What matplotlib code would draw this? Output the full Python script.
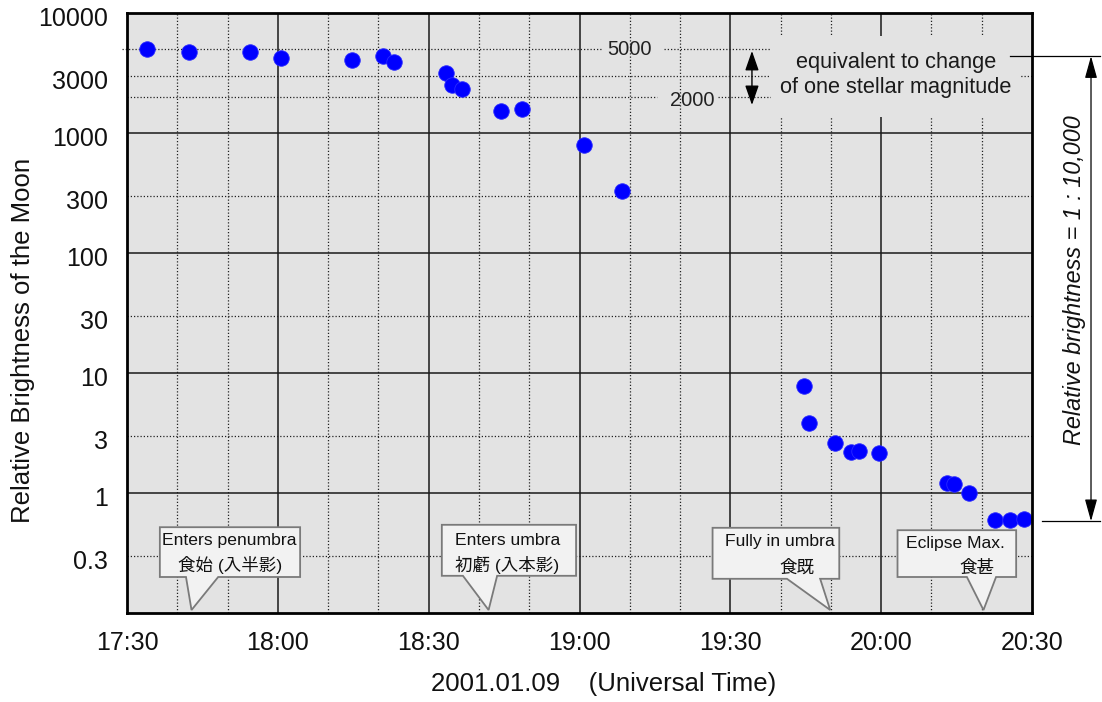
import matplotlib
matplotlib.use("Agg")
import matplotlib.pyplot as plt
import matplotlib.transforms as mtransforms
from matplotlib.patches import Polygon, Rectangle

# Observation times (UT) and measured relative brightness of the Moon
obs_times = [
    "17:34:00", "17:42:24", "17:54:30", "18:00:36", "18:14:42", "18:21:00",
    "18:23:06", "18:33:24", "18:34:36", "18:36:42", "18:44:18", "18:48:36",
    "19:00:48", "19:08:30", "19:44:42", "19:45:42", "19:50:48", "19:54:00",
    "19:55:30", "19:59:36", "20:13:00", "20:14:30", "20:17:30", "20:22:36",
    "20:25:42", "20:28:30",
]
brightness = [
    4980, 4760, 4760, 4190, 4060, 4410,
    3880, 3150, 2510, 2330, 1525, 1585,
    794, 331, 7.8, 3.8, 2.6, 2.21,
    2.22, 2.15, 1.21, 1.19, 1.0, 0.60,
    0.60, 0.61,
]

# Eclipse contacts
event_times = ["17:42:50", "18:41:55", "19:49:52", "20:20:21"]
event_labels_en = ["Enters penumbra", "Enters umbra", "Fully in umbra", "Eclipse Max."]
event_labels_ja = ["食始 (入半影)", "初虧 (入本影)", "食既", "食甚"]

ytick_values = [0.3, 1, 3, 10, 30, 100, 300, 1000, 3000, 10000]
ytick_labels = ["0.3", "1", "3", "10", "30", "100", "300", "1000", "3000", "10000"]
xtick_labels = ["17:30", "18:00", "18:30", "19:00", "19:30", "20:00", "20:30"]
magnitude_levels = [5000, 2000]


def to_minutes(s):
    parts = [float(p) for p in s.split(":")]
    while len(parts) < 3:
        parts.append(0.0)
    return parts[0] * 60 + parts[1] + parts[2] / 60


BG = "#e3e3e3"
LATIN = "Liberation Sans"
MIXED = ["Liberation Sans", "Noto Sans CJK JP"]

fig = plt.figure(figsize=(11.02, 7.02), dpi=100)
ax = fig.add_axes([127 / 1102, 89 / 702, 905 / 1102, 600 / 702])
ax.set_facecolor(BG)

x0, x1 = to_minutes("17:30"), to_minutes("20:30")
ax.set_xlim(x0, x1)
ax.set_yscale("log")
ax.set_ylim(0.1, 10000)

# grid: solid on the half hour / decades, dotted otherwise
dot = (0, (1, 1.6))
m = x0 + 10
while m < x1 - 1:
    if round(m - x0) % 30 == 0:
        ax.axvline(m, color="#1a1a1a", lw=1.1, zorder=1)
    else:
        ax.axvline(m, color="#222222", lw=0.9, ls=dot, zorder=1)
    m += 10
for v in [1, 10, 100, 1000]:
    ax.axhline(v, color="#1a1a1a", lw=1.1, zorder=1)
for v in [0.3, 3, 30, 300, 3000]:
    ax.axhline(v, color="#222222", lw=0.9, ls=dot, zorder=1)

# one-magnitude reference lines, broken around their labels
ytr = ax.get_yaxis_transform()
seg_5000 = [(-0.005, 0.5255), (0.5934, 0.7116)]
seg_2000 = [(0.0, 0.5856), (0.6530, 0.7116)]
for level, segs in zip(magnitude_levels, [seg_5000, seg_2000]):
    for a, b in segs:
        ax.plot([a, b], [level, level], transform=ytr, color="#222222",
                lw=0.9, ls=dot, zorder=1, clip_on=False)
ax.text(to_minutes("19:10:00"), magnitude_levels[0], "5000", fontsize=14.5,
        family=LATIN, ha="center", va="center", color="#222222", zorder=5)
ax.text(to_minutes("19:22:24"), magnitude_levels[1] * 0.94, "2000", fontsize=14.5,
        family=LATIN, ha="center", va="center", color="#222222", zorder=5)

# panel behind the magnitude note
ax.add_patch(Rectangle((0.7116, 0.8267), 0.2751, 0.135, transform=ax.transAxes,
                       facecolor=BG, edgecolor="none", zorder=1.5))
ax.text(0.8497, 0.8967, "equivalent to change\nof one stellar magnitude",
        transform=ax.transAxes, fontsize=15.7, family=LATIN, ha="center",
        va="center", linespacing=1.3, color="#1a1a1a", zorder=5)
xtr = ax.get_xaxis_transform()
ax.annotate("", xy=(to_minutes("19:34:18"), 0.8467),
            xytext=(to_minutes("19:34:18"), 0.9367),
            xycoords=xtr, textcoords=xtr,
            arrowprops=dict(arrowstyle="<|-|>,head_length=0.8,head_width=0.28",
                            color="black", lw=1.0, shrinkA=0, shrinkB=0,
                            mutation_scale=15), zorder=5)

# observations
ax.scatter([to_minutes(t) for t in obs_times], brightness, s=125,
           color="#0000ff", edgecolors="#2a2aff", linewidths=0.6, zorder=3)

# callouts for the eclipse contacts (offsets in minutes from the contact time)
callout_layout = [
    dict(L=-6.3, R=21.6, tl=-1.1, tr=5.3, bot=0.060, top=0.143,
         t1=(7.6, 0.120, "center"), t2=(7.6, 0.080, "center")),
    dict(L=-9.3, R=17.4, tl=-5.1, tr=1.7, bot=0.062, top=0.147,
         t1=(3.7, 0.121, "center"), t2=(3.7, 0.080, "center")),
    dict(L=-23.4, R=1.8, tl=-8.6, tr=-2.0, bot=0.057, top=0.142,
         t1=(-10.0, 0.119, "center"), t2=(-6.6, 0.075, "center")),
    dict(L=-17.1, R=6.5, tl=-3.3, tr=2.5, bot=0.060, top=0.138,
         t1=(-5.5, 0.116, "center"), t2=(-1.3, 0.076, "center")),
]
tip_y = 0.005
for t, en, ja, lay in zip(event_times, event_labels_en, event_labels_ja, callout_layout):
    c = to_minutes(t)
    verts = [(c + lay["L"], lay["top"]), (c + lay["R"], lay["top"]),
             (c + lay["R"], lay["bot"]), (c + lay["tr"], lay["bot"]),
             (c, tip_y), (c + lay["tl"], lay["bot"]), (c + lay["L"], lay["bot"])]
    ax.add_patch(Polygon(verts, closed=True, transform=xtr, facecolor="#f2f2f2",
                         edgecolor="#7a7a7a", lw=1.3, joinstyle="miter", zorder=4))
    dx, yy, ha = lay["t1"]
    ax.text(c + dx, yy, en, transform=xtr, fontsize=12.6, family=MIXED,
            ha=ha, va="center", color="#111111", zorder=5)
    dx, yy, ha = lay["t2"]
    ax.text(c + dx, yy, ja, transform=xtr, fontsize=12.6, family=MIXED,
            ha=ha, va="center", color="#111111", zorder=5)

# ticks
ax.set_xticks([to_minutes(s) for s in xtick_labels])
ax.set_xticklabels(xtick_labels, fontsize=18, family=LATIN)
ax.set_yticks(ytick_values)
ax.set_yticklabels(ytick_labels, fontsize=18, family=LATIN)
ax.minorticks_off()
ax.tick_params(axis="both", length=0, colors="#111111")
ax.tick_params(axis="x", pad=13)
ax.tick_params(axis="y", pad=14)
shift = mtransforms.ScaledTranslation(0, -4 / 100, fig.dpi_scale_trans)
for lab in ax.get_yticklabels():
    lab.set_transform(lab.get_transform() + shift)

for sp in ax.spines.values():
    sp.set_linewidth(2.0)
    sp.set_color("black")
    sp.set_zorder(6)

# axis titles
fig.text(23 / 1102, 1 - 340 / 702, "Relative Brightness of the Moon", rotation=90,
         fontsize=18.5, family=LATIN, ha="center", va="center", color="#111111")
fig.text(604 / 1102, 1 - 684 / 702, "2001.01.09    (Universal Time)",
         fontsize=18.5, family=LATIN, ha="center", va="center", color="#111111")

# overall brightness range marker on the right
atr = ax.transAxes
ax.plot([0.9757, 1.0751], [0.928, 0.928], transform=atr, color="black", lw=0.9,
        clip_on=False, zorder=6)
ax.plot([1.011, 1.0751], [0.153, 0.153], transform=atr, color="black", lw=0.9,
        clip_on=False, zorder=6)
ax.annotate("", xy=(1.0652, 0.153), xytext=(1.0652, 0.928), xycoords=atr,
            textcoords=atr, annotation_clip=False,
            arrowprops=dict(arrowstyle="<|-|>,head_length=0.9,head_width=0.25",
                            color="black", lw=0.9, shrinkA=0, shrinkB=0,
                            mutation_scale=15))
ax.text(1.0475, 0.555, "Relative brightness = 1 : 10,000", transform=atr,
        rotation=90, fontsize=16.8, style="italic", family=LATIN, ha="center",
        va="center", color="#111111", clip_on=False)

fig.savefig("out.png", dpi=100, facecolor="white")
